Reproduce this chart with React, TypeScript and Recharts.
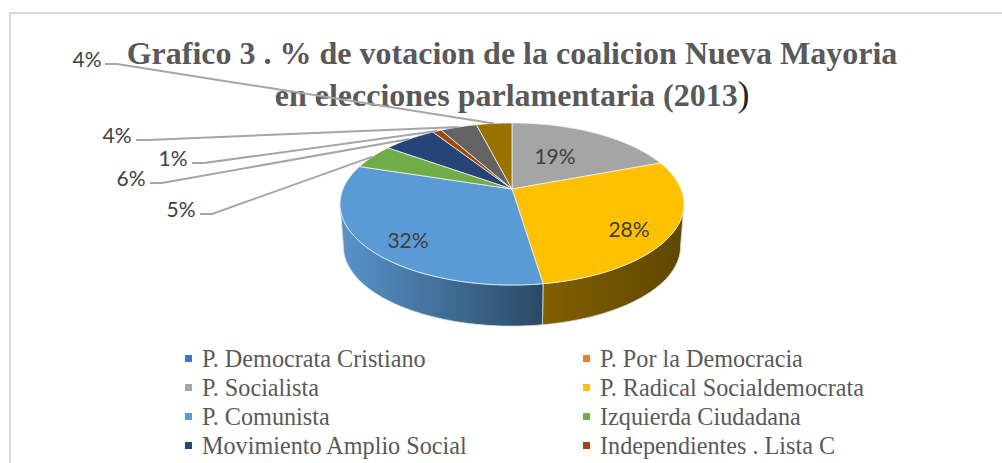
import { PieChart, Pie, Legend } from 'recharts';

const partyNames = [
  'P. Democrata Cristiano',
  'P. Por la Democracia',
  'P. Socialista',
  'P. Radical Socialdemocrata',
  'P. Comunista',
  'Izquierda Ciudadana',
  'Movimiento Amplio Social',
  'Independientes . Lista C',
  'Otros A',
  'Otros B',
];
const voteShares = [0, 0, 19.25, 28.35, 32.3, 5.0, 6.0, 1.0, 4.1, 4.0];
const sliceColors = ['#4472c4', '#ed7d31', '#a5a5a5', '#ffc000', '#5b9bd5', '#70ad47', '#264478', '#9e480e', '#636363', '#997300'];
const titleLines = ['Grafico 3 . % de votacion de la coalicion Nueva Mayoria', 'en elecciones parlamentaria (2013'];

// only the first eight legend rows fit in the picture
const VISIBLE_LEGEND = 8;

const data = partyNames.map((name, i) => ({ name, value: voteShares[i], fill: sliceColors[i] }));

// where each percent label sits; elbow is only set for the ones with a leader line
const labelSpots: Record<string, { x: number; y: number; lineX?: number; lineY?: number }> = {
  'P. Socialista': { x: 555, y: 155 },
  'P. Radical Socialdemocrata': { x: 629, y: 228 },
  'P. Comunista': { x: 408, y: 239 },
  'Izquierda Ciudadana': { x: 181, y: 208, lineX: 200, lineY: 214 },
  'Movimiento Amplio Social': { x: 131, y: 177, lineX: 150, lineY: 183 },
  'Independientes . Lista C': { x: 173, y: 157, lineX: 192, lineY: 163 },
  'Otros A': { x: 117, y: 134, lineX: 136, lineY: 140 },
  'Otros B': { x: 87, y: 58, lineX: 105, lineY: 64 },
};

// tilted disc: the far side is foreshortened, so the apex is not the ellipse centre
const PERSPECTIVE = 0.185;
const SQUASH = 0.463;
const WALL_DROP = 43;
const WALL_SCALE = 0.98;
const WALL_FROM = 100.7;
const WALL_TO = 259.3;

const project = (cx: number, cy: number, r: number, theta: number, scale = 1, drop = 0) => {
  const rad = (theta * Math.PI) / 180;
  const w = 1 + PERSPECTIVE * Math.cos(rad);
  return [cx + (scale * r * Math.sin(rad)) / w, cy + drop - (scale * r * SQUASH * Math.cos(rad)) / w];
};

const arcPoints = (cx: number, cy: number, r: number, from: number, to: number, scale = 1, drop = 0) => {
  const steps = Math.max(1, Math.ceil(Math.abs(to - from)));
  const pts = [];
  for (let i = 0; i <= steps; i++) pts.push(project(cx, cy, r, from + ((to - from) * i) / steps, scale, drop));
  return pts;
};

const toPath = (pts: number[][]) => pts.map((p, i) => `${i ? 'L' : 'M'}${p[0].toFixed(2)} ${p[1].toFixed(2)}`).join(' ') + ' Z';

const shadeAt = (x: number) => (x < 543 ? 0.95 - (0.45 * (x - 343)) / 200 : 0.47 - (0.1 * (x - 543)) / 140);

const darken = (hex: string, k: number) => {
  const n = parseInt(hex.slice(1), 16);
  const c = [n >> 16, (n >> 8) & 255, n & 255].map((v) => Math.round(v * k));
  return `rgb(${c[0]},${c[1]},${c[2]})`;
};

function Slice(props: any) {
  const { cx, cy, outerRadius, startAngle, endAngle, fill, index } = props;
  const from = 90 - startAngle;
  const to = 90 - endAngle;
  if (to - from < 0.01) return null;
  const wallFrom = Math.max(from, WALL_FROM);
  const wallTo = Math.min(to, WALL_TO);
  const hasWall = wallTo > wallFrom;
  const gradId = `wall-${index}`;
  let wall = null;
  if (hasWall) {
    const top = arcPoints(cx, cy, outerRadius, wallFrom, wallTo);
    const bottom = arcPoints(cx, cy, outerRadius, wallTo, wallFrom, WALL_SCALE, WALL_DROP);
    const xs = [...top, ...bottom].map((p) => p[0]);
    const x1 = Math.min(...xs);
    const x2 = Math.max(...xs);
    wall = (
      <g>
        <defs>
          <linearGradient id={gradId} gradientUnits="userSpaceOnUse" x1={x1} x2={x2} y1={0} y2={0}>
            <stop offset="0" stopColor={darken(fill, shadeAt(x1))} />
            <stop offset="1" stopColor={darken(fill, shadeAt(x2))} />
          </linearGradient>
        </defs>
        <path d={toPath([...top, ...bottom])} fill={`url(#${gradId})`} stroke="#dcdcdc" strokeWidth={0.8} />
      </g>
    );
  }
  const face = [[cx, cy], ...arcPoints(cx, cy, outerRadius, from, to)];
  return (
    <g>
      {wall}
      <path d={toPath(face)} fill={fill} stroke="#f0f0f0" strokeWidth={0.8} strokeLinejoin="round" />
    </g>
  );
}

function SliceLabel(props: any) {
  const { cx, cy, outerRadius, midAngle, percent, name, value } = props;
  const spot = labelSpots[name];
  if (!value || !spot) return null;
  const [endX, endY] = project(cx, cy, outerRadius, 90 - midAngle);
  return (
    <g>
      {spot.lineX !== undefined && (
        <polyline
          points={`${spot.lineX},${spot.lineY} ${spot.lineX + 12},${spot.lineY} ${endX},${endY}`}
          fill="none"
          stroke="#a6a6a6"
          strokeWidth={2}
        />
      )}
      <text x={spot.x} y={spot.y} textAnchor="middle" dominantBaseline="central" fontFamily="Lato" fontSize={21} fill="#404040">
        {`${Math.round(percent * 100)}%`}
      </text>
    </g>
  );
}

function LegendRows({ payload }: any) {
  return (
    <div style={{ display: 'grid', gridTemplateColumns: '398px 398px', marginLeft: 185, fontFamily: '"Liberation Serif"', fontSize: 24.2, color: '#595959' }}>
      {(payload || []).slice(0, VISIBLE_LEGEND).map((entry: any) => (
        <div key={entry.value} style={{ display: 'flex', alignItems: 'center', height: 29, whiteSpace: 'nowrap' }}>
          <span style={{ width: 7, height: 7, background: entry.color, marginRight: 10 }} />
          <span>{entry.value}</span>
        </div>
      ))}
    </div>
  );
}

export default function App() {
  return (
    <div style={{ position: 'absolute', left: 0, top: 0, width: 1002, height: 463, overflow: 'hidden', background: '#fff' }}>
      <div style={{ position: 'absolute', left: 9, top: 12, width: 993, height: 460, borderLeft: '2px solid #d9d9d9', borderTop: '2px solid #d9d9d9', boxSizing: 'border-box' }} />
      <div style={{ position: 'absolute', left: 0, top: 32, width: 1024, textAlign: 'center', fontFamily: '"Liberation Serif"', fontWeight: 700, fontSize: 32, lineHeight: '42px', color: '#595959' }}>
        <div>{titleLines[0]}</div>
        <div>
          {titleLines[1]}
          <span style={{ color: '#222', fontWeight: 400, fontSize: 35 }}>)</span>
        </div>
      </div>
      <div style={{ position: 'absolute', left: 0, top: 0 }}>
        <PieChart width={1002} height={463} margin={{ top: 0, right: 0, bottom: 0, left: 0 }}>
          <Pie
            data={data}
            dataKey="value"
            nameKey="name"
            cx={512}
            cy={189}
            outerRadius={169}
            startAngle={90}
            endAngle={-270}
            shape={Slice}
            label={SliceLabel}
            labelLine={false}
            isAnimationActive={false}
          />
          <Legend content={LegendRows} itemSorter={null} wrapperStyle={{ left: 0, top: 344, bottom: 'auto', width: 1002 }} />
        </PieChart>
      </div>
    </div>
  );
}
